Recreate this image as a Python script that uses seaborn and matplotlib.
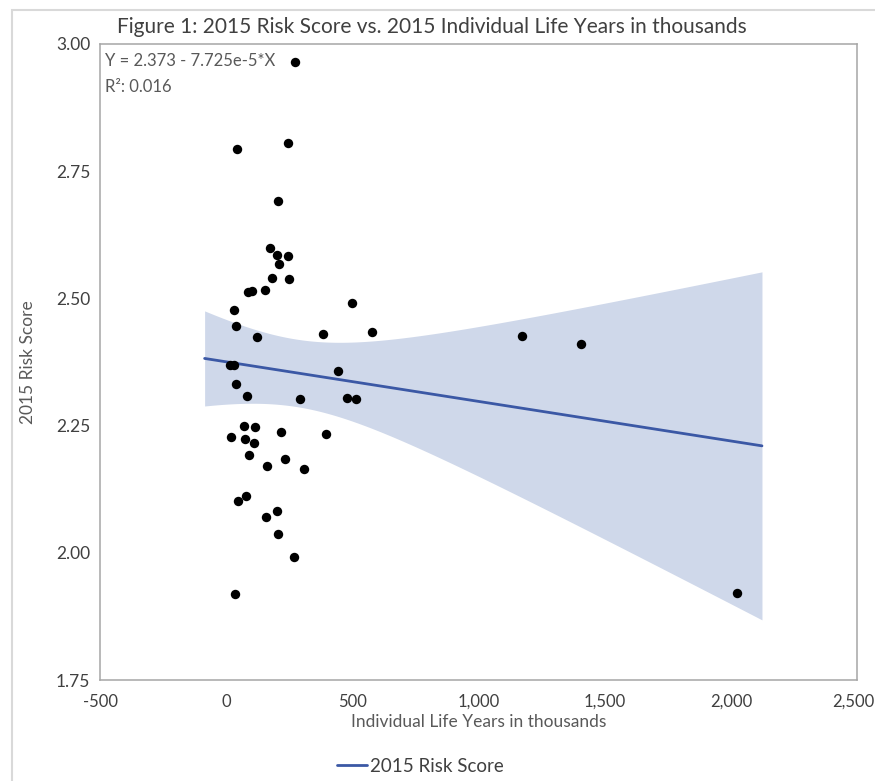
#!/usr/bin/env python3
"""Figure 1: 2015 risk score against individual life years, with OLS fit."""

import matplotlib
matplotlib.use("Agg")
import matplotlib.pyplot as plt
import matplotlib.ticker as ticker
import matplotlib.transforms as mtransforms
import numpy as np
import pandas as pd
import seaborn as sns
from matplotlib.patches import Rectangle

# Individual life years (thousands) and 2015 risk score
LIFE_YEARS = [
    273, 42, 246, 204, 172, 200, 244, 208, 182, 249,
    88, 104, 155, 497, 32, 39, 121, 384, 578, 15,
    31, 442, 38, 81, 294, 478, 513, 70, 115, 218,
    394, 20, 75, 109, 92, 234, 162, 308, 80, 48,
    200, 158, 204, 269, 36, 1174, 1405, 2023,
]
RISK_SCORE = [
    2.964, 2.794, 2.805, 2.691, 2.600, 2.585, 2.583, 2.568, 2.541, 2.538,
    2.513, 2.514, 2.517, 2.491, 2.477, 2.445, 2.425, 2.431, 2.434, 2.370,
    2.370, 2.357, 2.332, 2.309, 2.303, 2.305, 2.302, 2.250, 2.247, 2.237,
    2.234, 2.228, 2.224, 2.216, 2.192, 2.185, 2.170, 2.165, 2.111, 2.101,
    2.082, 2.070, 2.036, 1.991, 1.920, 2.427, 2.411, 1.921,
]

X_TICKS = [-500, 0, 500, 1000, 1500, 2000, 2500]
Y_TICKS = [1.75, 2.00, 2.25, 2.50, 2.75, 3.00]

TITLE = "Figure 1: 2015 Risk Score vs. 2015 Individual Life Years in thousands"
X_LABEL = "Individual Life Years in thousands"
Y_LABEL = "2015 Risk Score"
SERIES = "2015 Risk Score"
EQUATION = "Y = 2.373 - 7.725e-5*X"
R_SQUARED = "R\u00b2: 0.016"

T_CRIT = 2.013  # two-sided 95%, 46 degrees of freedom

LINE_COLOR = "#3b58a5"
BAND_COLOR = "#cfd8ea"
AXIS_GRAY = "#a6a6a6"
TEXT_DARK = "#404040"
TEXT_MID = "#595959"


def fit_band(x, y):
    """OLS line and 95% confidence band for the mean."""
    n = len(x)
    slope, intercept = np.polyfit(x, y, 1)
    resid = y - (intercept + slope * x)
    s = np.sqrt(np.sum(resid ** 2) / (n - 2))
    sxx = np.sum((x - x.mean()) ** 2)
    pad = 0.05 * (x.max() - x.min())
    grid = np.linspace(x.min() - pad, x.max() + pad, 300)
    fit = intercept + slope * grid
    half = T_CRIT * s * np.sqrt(1.0 / n + (grid - x.mean()) ** 2 / sxx)
    return grid, fit, fit - half, fit + half


def main():
    sns.set_style("white")
    plt.rcParams["font.family"] = ["Lato", "DejaVu Sans"]

    df = pd.DataFrame({"life_years": LIFE_YEARS, "risk": RISK_SCORE})
    x = df["life_years"].to_numpy(dtype=float)
    y = df["risk"].to_numpy(dtype=float)
    grid, fit, lo, hi = fit_band(x, y)

    fig = plt.figure(figsize=(8.75, 7.81), dpi=100)
    ax = fig.add_axes([100 / 875, 1 - 680 / 781, 757 / 875, (680 - 44) / 781])

    ax.fill_between(grid, lo, hi, color=BAND_COLOR, linewidth=0, zorder=1)
    sns.lineplot(x=grid, y=fit, color=LINE_COLOR, linewidth=2.0,
                 label=SERIES, ax=ax, zorder=2)
    sns.scatterplot(data=df, x="life_years", y="risk", color="black",
                    s=46, linewidth=0, ax=ax, zorder=3)

    ax.set_xlim(X_TICKS[0], X_TICKS[-1])
    ax.set_ylim(Y_TICKS[0], Y_TICKS[-1])
    ax.set_xticks(X_TICKS)
    ax.set_yticks(Y_TICKS)
    ax.xaxis.set_major_formatter(ticker.FuncFormatter(lambda v, _: f"{v:,.0f}"))
    ax.yaxis.set_major_formatter(ticker.FormatStrFormatter("%.2f"))
    ax.tick_params(axis="both", direction="out", length=5, width=1,
                   color=AXIS_GRAY, labelcolor=TEXT_DARK, labelsize=12.5, pad=2)
    ax.tick_params(axis="x", labelsize=12, pad=5)
    for spine in ax.spines.values():
        spine.set_color(AXIS_GRAY)
        spine.set_linewidth(1.1)

    # last x label sits against the figure edge; nudge it inside
    last = ax.get_xticklabels()[-1]
    last.set_transform(last.get_transform() + mtransforms.ScaledTranslation(
        -4 / 100, 0, fig.dpi_scale_trans))

    ax.set_xlabel(X_LABEL, fontsize=12.5, color=TEXT_MID, labelpad=3)
    ax.set_ylabel(Y_LABEL, fontsize=12.5, color=TEXT_MID, labelpad=14)
    fig.text(432 / 875, 1 - 27 / 781, TITLE, fontsize=15, color=TEXT_DARK,
             ha="center", va="center")

    ax.text(0.007, 0.986, EQUATION, transform=ax.transAxes, fontsize=12,
            color=TEXT_MID, ha="left", va="top")
    ax.text(0.007, 0.945, R_SQUARED, transform=ax.transAxes, fontsize=12,
            color=TEXT_MID, ha="left", va="top")

    handles, labels = ax.get_legend_handles_labels()
    ax.get_legend().remove()
    fig.legend(handles[:1], labels[:1], loc="center",
               bbox_to_anchor=(420 / 875, 1 - 766 / 781),
               frameon=False, fontsize=13.5, handlelength=1.6, handletextpad=0.15,
               labelcolor=TEXT_DARK)

    # light outer frame, cut off at the right and bottom edges
    fig.add_artist(Rectangle((12 / 875, -0.1), 1.2, 0.1 + 1 - 10 / 781,
                             transform=fig.transFigure, fill=False,
                             edgecolor="#d9d9d9", linewidth=1.5))

    fig.savefig("out.png", dpi=100)
    plt.close(fig)


if __name__ == "__main__":
    main()
